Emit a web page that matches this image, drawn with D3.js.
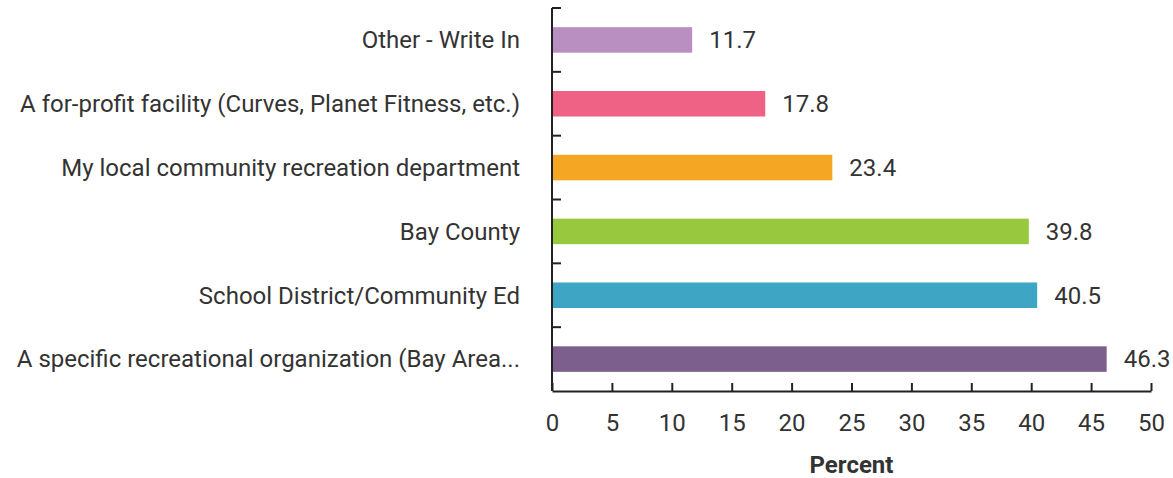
<!DOCTYPE html>
<html>
<head>
<meta charset="utf-8">
<script src="https://cdn.jsdelivr.net/npm/d3@7"></script>
<style>
  html, body { margin: 0; padding: 0; background: #fff; }
  svg text { font-family: "Liberation Sans Narrow", "Roboto", sans-serif; fill: #333; }
</style>
</head>
<body>
<svg id="chart" width="1173" height="478"></svg>
<script>
// Survey responses: where people go for recreation programs
const categories = [
  "Other - Write In",
  "A for-profit facility (Curves, Planet Fitness, etc.)",
  "My local community recreation department",
  "Bay County",
  "School District/Community Ed",
  "A specific recreational organization (Bay Area..."
];
const percents = [11.7, 17.8, 23.4, 39.8, 40.5, 46.3];
const barColors = ["#b98fc2", "#f06285", "#f5a623", "#97c83d", "#3ea5c4", "#7d5f8e"];
const xTicks = [0, 5, 10, 15, 20, 25, 30, 35, 40, 45, 50];
const xTitle = "Percent";

const svg = d3.select("#chart");
const margin = { left: 552, right: 22, top: 8, bottom: 87 };
const W = 1173, H = 478;

const x = d3.scaleLinear().domain([0, 50]).range([margin.left, W - margin.right]);
const y = d3.scaleBand().domain(categories).range([margin.top, H - margin.bottom]).paddingInner(0.6).paddingOuter(0.3);
const yBands = d3.scaleBand().domain(categories).range([margin.top, H - margin.bottom]);

// bars
svg.append("g").selectAll("rect")
  .data(categories)
  .join("rect")
  .attr("x", x(0))
  .attr("y", d => y(d))
  .attr("width", (d, i) => x(percents[i]) - x(0))
  .attr("height", y.bandwidth())
  .attr("fill", (d, i) => barColors[i]);

// value labels
svg.append("g").selectAll("text")
  .data(categories)
  .join("text")
  .attr("x", (d, i) => x(percents[i]) + 17)
  .attr("y", d => y(d) + y.bandwidth() / 2)
  .attr("dy", "0.35em")
  .style("font-size", "24px")
  .text((d, i) => percents[i].toFixed(1));

// category labels
svg.append("g").selectAll("text")
  .data(categories)
  .join("text")
  .attr("x", x(0) - 32)
  .attr("y", d => y(d) + y.bandwidth() / 2)
  .attr("dy", "0.35em")
  .attr("text-anchor", "end")
  .style("font-size", "24px")
  .text(d => d);

// y axis line with inward ticks between the bands
const axisColor = "#222";
svg.append("line")
  .attr("x1", x(0)).attr("x2", x(0))
  .attr("y1", margin.top).attr("y2", H - margin.bottom)
  .attr("stroke", axisColor).attr("stroke-width", 2);
svg.append("g").selectAll("line")
  .data(categories)
  .join("line")
  .attr("x1", x(0)).attr("x2", x(0) + 9)
  .attr("y1", d => yBands(d)).attr("y2", d => yBands(d))
  .attr("stroke", axisColor).attr("stroke-width", 2);

// x axis
const xAxis = d3.axisBottom(x).tickValues(xTicks).tickSize(-8).tickSizeOuter(0).tickPadding(23).tickFormat(d3.format("d"));
const gx = svg.append("g").attr("transform", `translate(0,${H - margin.bottom})`).call(xAxis);
gx.select(".domain").attr("stroke", axisColor).attr("stroke-width", 2);
gx.selectAll(".tick line").attr("stroke", axisColor).attr("stroke-width", 2);
gx.selectAll(".tick text").style("font-size", "24px").style("font-family", null).attr("fill", "#333");

svg.append("text")
  .attr("x", (x(0) + x(50)) / 2)
  .attr("y", 473)
  .attr("text-anchor", "middle")
  .style("font-size", "24px")
  .style("font-weight", "bold")
  .text(xTitle);
</script>
</body>
</html>
